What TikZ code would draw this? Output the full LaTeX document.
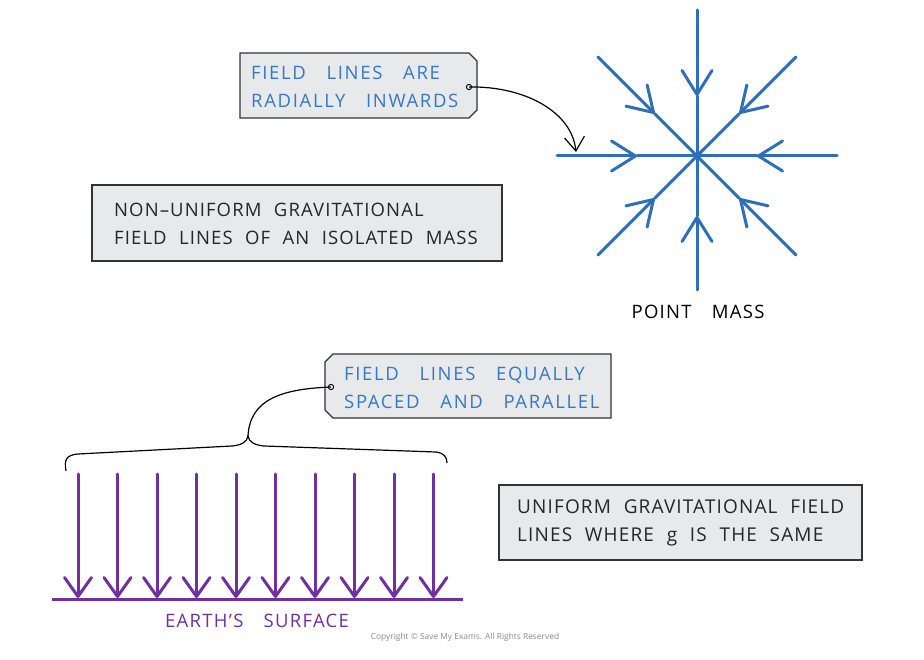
\documentclass[tikz,border=0pt]{standalone}
\usepackage{fontspec}
\setmainfont{Open Sans}
\newfontfamily\tagfont[LetterSpace=9,WordSpace=3.2]{Open Sans}
\newfontfamily\notefont[LetterSpace=6,WordSpace=2.1]{Open Sans}
\newfontfamily\labelfont[LetterSpace=7,WordSpace=3.3]{Open Sans}
\usetikzlibrary{arrows.meta,calc,positioning}
\definecolor{fieldblue}{RGB}{47,111,186}
\definecolor{textblue}{RGB}{52,120,200}
\definecolor{earthpurple}{RGB}{112,48,160}
\definecolor{boxgrey}{RGB}{232,233,234}
\tikzset{
  notebox/.style={draw=black!80, fill=boxgrey, line width=1.2pt},
  notetext/.style={anchor=west, align=left, inner sep=0pt,
    font=\notefont\fontsize{18.5}{27.5}\selectfont},
  tagtext/.style={notetext, textblue, font=\tagfont\fontsize{18.5}{28}\selectfont},
  labeltext/.style={font=\labelfont\fontsize{18.5}{20}\selectfont},
  radial/.style={fieldblue, line width=3pt, line cap=round},
  inbarb/.style={-{Straight Barb[length=24pt,width=30pt,round]}},
  downline/.style={earthpurple, line width=3pt, line cap=round,
    -{Straight Barb[length=19pt,width=27pt,round]}},
  pointer/.style={black, line width=1.2pt},
}
\begin{document}
\begin{tikzpicture}[x=1pt, y=-1pt]
  \useasboundingbox (0,0) rectangle (924,660);

  % point mass and radial field
  \coordinate (M) at (697,156);
  \foreach \a/\r in {0/140,45/140,90/134,135/140,180/140,225/140,270/146,315/140} {
    \coordinate (out\a) at ($(M)+(\a:\r)$);
    \coordinate (tip\a) at ($(M)+(\a:60)$);
    \draw[radial,inbarb] (out\a) -- (tip\a);
    \draw[radial] (tip\a) -- (M);
  }
  \node[labeltext] (pointmass) at (698,312) {POINT MASS};

  % tag: radially inwards
  \draw[notebox] (240,53) -- (469,53) -- (477,61) -- (477,110) -- (469,118) -- (240,118) -- cycle;
  \coordinate (hole1) at (469,87);
  \draw[line width=1pt, fill=white] (hole1) circle (2.6);
  \node[tagtext] (radtext) at (251,87) {FIELD LINES ARE\\RADIALLY INWARDS};
  \draw[pointer, -{Straight Barb[length=14pt,width=20pt]}] (hole1) .. controls (525,86) and (572,112) .. (576,152);

  % non-uniform note
  \draw[notebox] (92,185) rectangle (502,261);
  \node[notetext, black!85] (nonuniform) at (114,224) {NON–UNIFORM GRAVITATIONAL\\FIELD LINES OF AN ISOLATED MASS};

  % tag: equally spaced
  \draw[notebox] (333,354) -- (611,354) -- (611,418) -- (333,418) -- (325,410) -- (325,362) -- cycle;
  \coordinate (hole3) at (331,387);
  \draw[line width=1pt, fill=white] (hole3) circle (2.6);
  \node[tagtext] (spacedtext) at (344,388) {FIELD LINES EQUALLY\\SPACED AND PARALLEL};

  % brace over the uniform field
  \coordinate (cusp) at (248,436);
  \draw[pointer] (66,471) .. controls (64,460) and (66,455) .. (78,454) -- (232,446)
    .. controls (242,445) and (247,442) .. (cusp)
    .. controls (249,442) and (254,445) .. (264,446) -- (436,452)
    .. controls (444,453) and (447,457) .. (447,463);
  \draw[pointer] (cusp) .. controls (250,400) and (280,389) .. (hole3);

  % uniform field lines
  \foreach \i in {0,...,9}
    \draw[downline] ({78+39.5*\i},474) -- ({78+39.5*\i},598);
  \coordinate (groundL) at (52,599);
  \coordinate (groundR) at (463,599);
  \draw[earthpurple, line width=3pt] (groundL) -- (groundR);
  \node[labeltext, earthpurple] (earth) at (257,621) {EARTH’S SURFACE};

  % uniform note
  \draw[notebox] (499,485) rectangle (862,560);
  \node[notetext, black!85, font=\notefont\fontsize{19}{27.5}\selectfont] (uniform) at (517,523) {UNIFORM GRAVITATIONAL FIELD\\LINES WHERE g IS THE SAME};

  \node[black!45] (copyright) at (465,637) {\fontsize{8.4}{10}\selectfont Copyright © Save My Exams. All Rights Reserved};
\end{tikzpicture}
\end{document}
